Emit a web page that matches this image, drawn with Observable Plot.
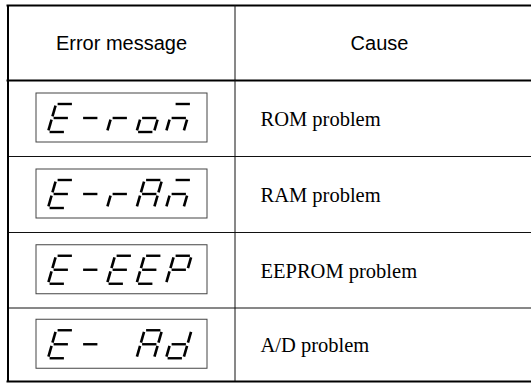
<!DOCTYPE html>
<html>
<head>
<meta charset="utf-8">
<script src="https://cdn.jsdelivr.net/npm/d3@7"></script>
<script src="https://cdn.jsdelivr.net/npm/@observablehq/plot@0.6"></script>
<style>
  html, body { margin: 0; padding: 0; background: #fff; }
  svg { display: block; }
</style>
</head>
<body>
<div id="chart"></div>
<script>
// ---- data ----
const headers = ["Error message", "Cause"];
const displayCodes = ["E-rom", "E-rAm", "E-EEP", "E- Ad"];
const causes = ["ROM problem", "RAM problem", "EEPROM problem", "A/D problem"];
// seven-segment glyph font (which segments are lit per character)
const glyphSegments = {
  "E": "adefg", "-": "g", "r": "eg", "o": "cdeg", "m": "aceg",
  "A": "abcefg", "P": "abefg", "d": "bcdeg", " ": ""
};

// ---- layout ----
const W = 531, H = 383;
const tableLeft = 7.5, tableRight = 531, tableTop = 5, tableBottom = 381;
const colDivider = 234.5;
const rowLines = [80, 156, 232, 307.5, tableBottom];
const boxX1 = 36, boxX2 = 207, boxH = 49;
const glyphX0 = 47.5, glyphPitch = 29.5, glyphW = 17.5, glyphSlant = 8, glyphH = 28, glyphTopOff = 10.5;
const segDef = {
  a: [[0,0],[1,0]], b: [[1,0],[1,0.5]], c: [[1,0.5],[1,1]], d: [[0,1],[1,1]],
  e: [[0,0.5],[0,1]], f: [[0,0],[0,0.5]], g: [[0,0.5],[1,0.5]]
};

const rows = causes.map((c, i) => {
  const top = rowLines[i], bottom = rowLines[i + 1];
  const mid = (top + bottom) / 2 - 0.5;
  return {code: displayCodes[i], cause: c, top, bottom, mid, boxY1: mid - boxH / 2, boxY2: mid + boxH / 2};
});

const segments = [];
rows.forEach(r => {
  [...r.code].forEach((ch, ci) => {
    const lit = glyphSegments[ch] || "";
    const x0 = glyphX0 + ci * glyphPitch;
    const gTop = r.boxY1 + glyphTopOff;
    for (const s of lit) {
      const [[u1, v1], [u2, v2]] = segDef[s];
      const horiz = v1 === v2;
      const tu = horiz ? 1.6 / glyphW : 0, tv = horiz ? 0 : 1.6 / glyphH;
      const P = (u, v) => [x0 + u * glyphW + (1 - v) * glyphSlant, gTop + v * glyphH];
      const [xa, ya] = P(u1 + tu, v1 + tv);
      const [xb, yb] = P(u2 - tu, v2 - tv);
      segments.push({x1: xa, y1: ya, x2: xb, y2: yb, horiz});
    }
  });
});

const hLines = [
  {y: tableTop, w: 2}, {y: rowLines[0], w: 2},
  ...rowLines.slice(1, -1).map(y => ({y, w: 1})),
  {y: tableBottom, w: 2}
];

const chart = Plot.plot({
  width: W, height: H, margin: 0,
  x: {domain: [0, W], range: [0, W], axis: null},
  y: {domain: [0, H], range: [0, H], axis: null},
  marks: [
    Plot.ruleY(hLines.filter(d => d.w === 2), {y: "y", x1: tableLeft - 1, x2: tableRight, stroke: "#000", strokeWidth: 2}),
    Plot.ruleY(hLines.filter(d => d.w === 1), {y: "y", x1: tableLeft, x2: tableRight, stroke: "#111", strokeWidth: 1}),
    Plot.ruleX([tableLeft], {x: d => d, y1: tableTop, y2: tableBottom, stroke: "#000", strokeWidth: 2}),
    Plot.ruleX([colDivider], {x: d => d, y1: tableTop, y2: tableBottom, stroke: "#111", strokeWidth: 1}),
    Plot.rect(rows, {x1: boxX1, x2: boxX2, y1: "boxY1", y2: "boxY2", fill: "none", stroke: "#444", strokeWidth: 1}),
    Plot.link(segments, {x1: "x1", y1: "y1", x2: "x2", y2: "y2", stroke: "#000", strokeWidth: d => d.horiz ? 2.4 : 2.6, strokeLinecap: "butt"}),
    Plot.text(headers, {
      x: (d, i) => i === 0 ? (tableLeft + colDivider) / 2 : 379,
      y: (tableTop + rowLines[0]) / 2 + 1,
      text: d => d, fontFamily: "Liberation Sans, Arial, sans-serif", fontSize: 20, fill: "#000"
    }),
    Plot.text(rows, {
      x: 260, y: d => d.mid + 1.5, text: "cause", textAnchor: "start",
      fontFamily: "Liberation Serif, Times New Roman, serif", fontSize: 20.5, fill: "#000"
    })
  ]
});
document.getElementById("chart").appendChild(chart);
</script>
</body>
</html>
